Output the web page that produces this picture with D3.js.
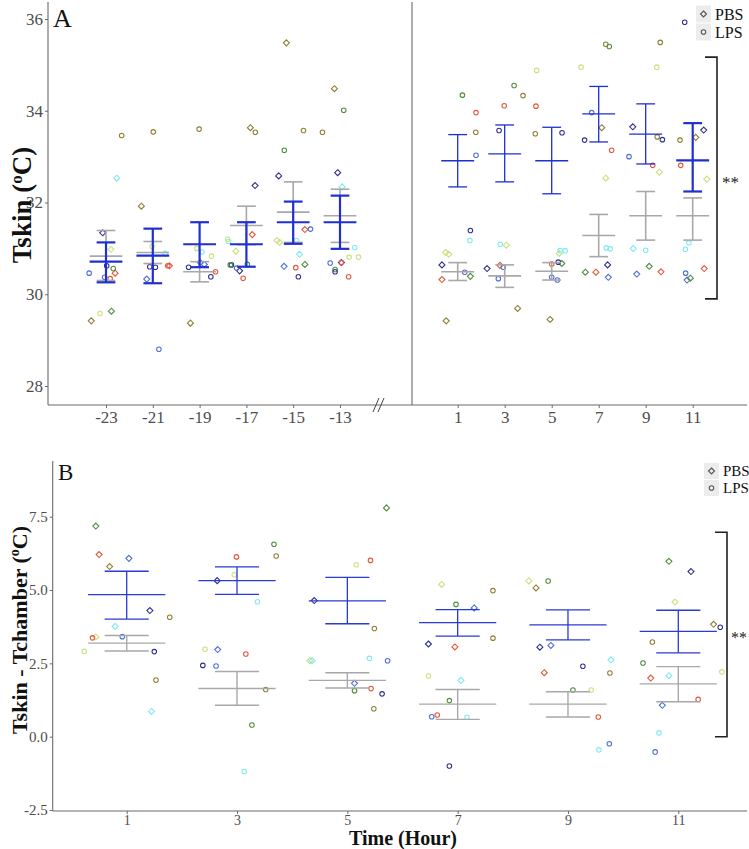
<!DOCTYPE html>
<html><head><meta charset="utf-8">
<script src="https://cdn.jsdelivr.net/npm/d3@7"></script>
<style>body{margin:0;background:#fff}svg{display:block}</style>
</head><body>
<svg id="chart" width="749" height="849"></svg>
<script>
// ---------- DATA ----------
const animalColors = {N:"#2f2f8f", B:"#4c6fd6", C:"#7fe9f3", Y:"#c9e27f", O:"#8e7f34", G:"#4f8d3c", R:"#e1583a"};

const tskinHoursPre  = [-23,-21,-19,-17,-15,-13];
const tskinHoursPost = [1,3,5,7,9,11];
const tskinHours = tskinHoursPre.concat(tskinHoursPost);
const tskinLPSMean  = [30.71,30.84,31.09,31.09,31.57,31.57,32.91,33.06,32.91,33.93,33.49,32.92];
const tskinLPSUpper = [31.13,31.43,31.57,31.57,32.02,32.15,33.48,33.69,33.64,34.53,34.15,33.73];
const tskinLPSLower = [30.26,30.24,30.59,30.60,31.10,30.99,32.34,32.45,32.19,33.32,32.84,32.24];
const tskinPBSMean  = [30.83,30.91,30.49,31.50,31.79,31.71,30.49,30.40,30.50,31.28,31.71,31.71];
const tskinPBSUpper = [31.39,31.15,30.71,31.92,32.45,32.29,30.69,30.64,30.69,31.74,32.24,32.10];
const tskinPBSLower = [30.30,30.67,30.27,31.08,31.13,31.13,30.30,30.15,30.31,30.82,31.18,31.18];

// [hour (jittered), value, animal]
const tskinPBSPoints = [
 [-22.54,32.53,'C'],[-21.49,31.92,'O'],[-16.83,33.63,'O'],[-16.63,32.37,'N'],[-15.29,35.48,'O'],[-15.62,32.58,'N'],
 [-13.24,34.48,'O'],[-13.10,32.65,'N'],[-12.91,32.34,'C'],[-23.14,31.34,'N'],[-22.79,30.98,'Y'],[-22.61,30.46,'R'],
 [-23.63,29.42,'O'],[-22.77,29.63,'G'],[-21.26,30.33,'B'],[-20.29,30.62,'R'],[-18.97,30.69,'B'],[-18.80,30.65,'B'],
 [-19.39,29.37,'O'],[-17.45,30.94,'Y'],[-16.75,31.30,'R'],[-17.29,30.51,'N'],[-15.69,31.17,'Y'],[-15.58,31.13,'Y'],
 [-14.73,30.87,'C'],[-14.50,31.41,'R'],[-15.39,30.61,'B'],[-14.50,30.65,'G'],[-12.94,30.69,'N'],
 [7.13,33.63,'O'],[7.30,32.53,'Y'],[8.45,33.65,'N'],[9.58,32.66,'Y'],[11.47,33.58,'N'],[11.13,33.42,'O'],[11.60,32.51,'Y'],
 [0.49,30.91,'Y'],[0.62,30.87,'Y'],[0.33,30.64,'N'],[1.54,30.39,'G'],[0.33,30.32,'R'],[0.51,29.42,'O'],
 [3.07,31.07,'Y'],[2.25,30.56,'N'],[2.80,30.63,'R'],[3.55,29.69,'O'],
 [5.32,30.89,'Y'],[5.43,30.67,'G'],[4.93,29.45,'O'],
 [7.38,30.64,'N'],[6.43,30.48,'G'],[6.88,30.48,'R'],[7.41,30.37,'B'],
 [8.47,31.00,'C'],[9.15,30.61,'G'],[9.65,30.49,'R'],[8.62,30.44,'B'],
 [11.49,30.56,'R'],[10.76,30.31,'B'],[10.90,30.35,'G']
];
const tskinLPSPoints = [
 [-22.33,33.46,'O'],[-20.98,33.54,'O'],[-19.02,33.60,'O'],[-16.62,33.53,'O'],[-15.38,33.14,'G'],[-14.56,33.57,'O'],
 [-13.75,33.53,'O'],[-12.84,34.01,'G'],
 [-23.72,30.46,'B'],[-22.97,30.62,'N'],[-22.69,30.56,'G'],[-23.06,30.37,'B'],[-22.82,30.34,'R'],[-23.26,29.58,'Y'],
 [-21.03,31.04,'Y'],[-20.47,30.89,'C'],[-21.13,30.60,'N'],[-20.89,30.59,'N'],[-20.36,30.62,'R'],[-20.74,28.80,'B'],
 [-19.12,31.00,'Y'],[-18.90,30.92,'C'],[-18.49,30.83,'Y'],[-19.47,30.59,'N'],[-18.32,30.49,'R'],[-18.52,30.38,'N'],
 [-17.76,31.15,'C'],[-17.80,31.20,'Y'],[-17.64,30.64,'N'],[-17.69,30.64,'G'],[-17.42,30.57,'B'],[-16.96,30.65,'G'],[-17.14,30.35,'R'],
 [-14.86,31.17,'C'],[-14.26,31.42,'B'],[-14.89,30.58,'R'],[-14.78,30.38,'N'],
 [-12.37,31.02,'C'],[-12.61,30.81,'Y'],[-12.21,30.81,'Y'],[-13.42,30.68,'B'],[-12.94,30.69,'R'],[-13.21,30.54,'G'],[-13.21,30.49,'N'],[-12.63,30.38,'R'],
 [1.20,34.34,'G'],[1.78,33.96,'R'],[1.77,33.53,'O'],[1.78,33.03,'B'],
 [3.40,34.55,'G'],[3.78,34.33,'O'],[2.98,34.11,'R'],[2.76,33.57,'N'],
 [4.36,34.88,'Y'],[4.33,34.10,'R'],[4.30,33.50,'O'],[5.44,33.52,'N'],
 [6.25,34.95,'Y'],[7.30,35.45,'O'],[7.45,35.40,'G'],[6.70,33.96,'B'],[6.40,33.36,'N'],[7.55,33.14,'R'],
 [9.62,35.49,'O'],[9.47,34.95,'Y'],[9.49,33.43,'O'],[9.71,33.37,'N'],[8.29,33.00,'B'],[9.30,32.81,'R'],
 [10.66,35.93,'N'],[10.46,33.36,'O'],[10.49,32.81,'R'],
 [1.54,31.39,'N'],[1.52,31.17,'C'],[1.30,30.48,'B'],
 [2.81,31.09,'C'],[2.94,30.59,'B'],[2.73,30.34,'B'],
 [5.57,30.95,'C'],[5.36,30.95,'C'],[5.28,30.70,'N'],[5.00,30.66,'R'],[5.00,30.37,'B'],[5.24,30.31,'B'],
 [7.32,31.01,'C'],[7.49,30.99,'C'],[9.00,30.96,'C'],
 [10.69,30.98,'C'],[10.84,31.12,'C'],[10.70,30.46,'B']
];

const deltaHours = [1,3,5,7,9,11];
const deltaLPSMean  = [4.84,5.32,4.63,3.89,3.81,3.59];
const deltaLPSUpper = [5.64,5.79,5.43,4.33,4.32,4.31];
const deltaLPSLower = [4.01,4.85,3.85,3.43,3.30,2.86];
const deltaPBSMean  = [3.19,1.64,1.92,1.11,1.11,1.80];
const deltaPBSUpper = [3.45,2.22,2.18,1.61,1.53,2.39];
const deltaPBSLower = [2.92,1.07,1.66,0.59,0.67,1.19];

const deltaPBSPoints = [
 [0.44,7.18,'G'],[0.50,6.21,'R'],[0.69,5.80,'O'],[1.04,6.08,'B'],[1.42,4.30,'N'],[0.79,3.76,'C'],[0.44,3.40,'Y'],[1.45,0.86,'C'],
 [2.64,5.32,'N'],[2.65,2.97,'B'],
 [4.40,4.64,'N'],[5.71,7.80,'G'],[4.32,2.59,'Y'],[4.36,2.59,'C'],[5.13,1.82,'B'],
 [6.71,5.19,'Y'],[7.30,4.39,'B'],[6.47,3.16,'N'],[6.95,3.06,'R'],[7.06,1.92,'C'],
 [8.29,5.31,'Y'],[8.42,5.07,'O'],[8.49,3.05,'N'],[8.69,3.11,'B'],[8.57,2.18,'R'],[9.78,2.62,'C'],
 [10.83,5.98,'G'],[11.23,5.63,'N'],[10.94,4.59,'Y'],[11.64,3.83,'O'],[10.50,2.00,'R'],[10.83,2.08,'C'],[10.71,1.07,'B']
];
const deltaLPSPoints = [
 [1.78,4.07,'O'],[0.92,3.41,'B'],[0.38,3.37,'R'],[0.23,2.91,'Y'],[1.50,2.90,'N'],[1.53,1.93,'O'],
 [2.95,5.52,'Y'],[2.99,6.13,'R'],[3.67,6.56,'G'],[3.71,6.16,'O'],[3.37,4.60,'C'],[2.42,2.98,'Y'],[3.16,2.82,'R'],
 [2.38,2.43,'N'],[2.62,2.41,'B'],[3.52,1.61,'O'],[3.27,0.40,'G'],[3.13,-1.19,'C'],
 [5.16,5.86,'Y'],[5.42,6.01,'R'],[5.49,3.69,'O'],[5.40,2.67,'C'],[5.73,2.59,'B'],[5.13,1.57,'G'],[5.43,1.64,'R'],[5.63,1.46,'N'],[5.48,0.95,'O'],
 [6.97,4.51,'G'],[7.64,4.98,'O'],[7.64,3.36,'O'],[6.47,2.07,'Y'],[6.85,1.23,'G'],[6.53,0.68,'B'],[6.63,0.74,'R'],[7.17,0.66,'C'],[6.85,-1.00,'N'],
 [8.64,5.31,'G'],[9.27,2.40,'N'],[9.76,2.17,'O'],[9.09,1.59,'G'],[9.42,1.59,'Y'],[9.55,0.67,'R'],[9.75,-0.24,'B'],[9.56,-0.45,'C'],
 [11.76,3.73,'N'],[10.53,3.23,'O'],[10.36,2.51,'G'],[11.79,2.21,'Y'],[11.36,1.27,'R'],[10.65,0.13,'C'],[10.58,-0.52,'B']
];

const tskinYTicks = [28,30,32,34,36];
const deltaYTicks = [-2.5,0,2.5,5,7.5];
const groupLabels = ["PBS","LPS"];
const tskinSignifRange = [29.9,35.17];
const deltaSignifRange = [0,6.97];

// ---------- DRAW ----------
const svg = d3.select("#chart");
svg.append("rect").attr("width",749).attr("height",849).attr("fill","#fff");
const serif = "'Liberation Serif','Times New Roman',serif";
const axisCol = "#6a6a6a", tickTxt = "#4d4d4d";
const lpsCol = "#1f2fd0", pbsCol = "#a8a8a8";

const diamond = {draw(ctx,size){const r=Math.sqrt(size/2);ctx.moveTo(0,-r);ctx.lineTo(r,0);ctx.lineTo(0,r);ctx.lineTo(-r,0);ctx.closePath();}};
const diamondPath = d3.symbol().type(diamond).size(18)();
const circlePath = d3.symbol().type(d3.symbolCircle).size(16)();

function drawPoints(g, pts, path, xf, yf){
  g.selectAll(null).data(pts).enter().append("path")
   .attr("d", path)
   .attr("transform", d=>`translate(${xf(d[0])},${yf(d[1])})`)
   .attr("fill","none").attr("stroke", d=>animalColors[d[2]]).attr("stroke-width",1.1);
}
function drawBars(g, hours, mean, up, lo, xf, yf, col, widthFn){
  hours.forEach((h,i)=>{
    const w = widthFn(h);
    const mHalf = 0.7, cHalf = 0.4;
    const gg = g.append("g").attr("stroke",col).attr("stroke-width",w).attr("fill","none");
    gg.append("line").attr("x1",xf(h)).attr("x2",xf(h)).attr("y1",yf(up[i])).attr("y2",yf(lo[i]));
    gg.append("line").attr("x1",xf(h-cHalf)).attr("x2",xf(h+cHalf)).attr("y1",yf(up[i])).attr("y2",yf(up[i]));
    gg.append("line").attr("x1",xf(h-cHalf)).attr("x2",xf(h+cHalf)).attr("y1",yf(lo[i])).attr("y2",yf(lo[i]));
    gg.append("line").attr("x1",xf(h-mHalf)).attr("x2",xf(h+mHalf)).attr("y1",yf(mean[i])).attr("y2",yf(mean[i]));
  });
}
function styleAxis(g, fs){
  g.select(".domain").remove();
  g.selectAll(".tick line").attr("stroke",axisCol);
  g.selectAll(".tick text").attr("fill",tickTxt).style("font-family",serif).style("font-size",fs+"px");
}

// ===== Panel A =====
const yA = d3.scaleLinear().domain([28,36]).range([386,19]);
const xAL = d3.scaleLinear().domain([-23,-13]).range([106,340]);
const xAR = d3.scaleLinear().domain([1,11]).range([457.7,692.7]);
const xA = h => h < 0 ? xAL(h) : xAR(h);
const gA = svg.append("g");
const axTop = 2, axBot = 405, axLeft = 48, axRight = 747;

drawPoints(gA, tskinPBSPoints, diamondPath, xA, yA);
drawPoints(gA, tskinLPSPoints, circlePath, xA, yA);
drawBars(gA, tskinHours, tskinPBSMean, tskinPBSUpper, tskinPBSLower, xA, yA, pbsCol, h=>1.6);
drawBars(gA, tskinHours, tskinLPSMean, tskinLPSUpper, tskinLPSLower, xA, yA, lpsCol, h=>(h<0||h===11)?2.2:1.3);

// axes A
gA.append("line").attr("x1",axLeft).attr("x2",axLeft).attr("y1",axTop).attr("y2",axBot).attr("stroke",axisCol).attr("stroke-width",1.1);
gA.append("line").attr("x1",axLeft).attr("x2",axRight).attr("y1",axBot).attr("y2",axBot).attr("stroke",axisCol).attr("stroke-width",1.1);
gA.append("line").attr("x1",412).attr("x2",412).attr("y1",axTop).attr("y2",axBot).attr("stroke",axisCol).attr("stroke-width",1.1);
const yAxA = gA.append("g").attr("transform",`translate(${axLeft},0)`)
  .call(d3.axisLeft(yA).tickValues(tskinYTicks).tickSize(3).tickPadding(2).tickFormat(d=>String(d)));
styleAxis(yAxA,17);
const xAxAL = gA.append("g").attr("transform",`translate(0,${axBot})`)
  .call(d3.axisBottom(xAL).tickValues(tskinHoursPre).tickSize(3).tickPadding(3).tickFormat(d=>String(d)));
styleAxis(xAxAL,17);
const xAxAR = gA.append("g").attr("transform",`translate(0,${axBot})`)
  .call(d3.axisBottom(xAR).tickValues(tskinHoursPost).tickSize(3).tickPadding(3).tickFormat(d=>String(d)));
styleAxis(xAxAR,17);
// break mark
[376,381].forEach(x=>gA.append("line").attr("x1",x-3).attr("x2",x+3).attr("y1",axBot+7).attr("y2",axBot-7).attr("stroke","#444").attr("stroke-width",1));

gA.append("text").attr("x",53).attr("y",27).text("A").style("font-family",serif).style("font-size","26px").attr("fill","#111");
const tA = gA.append("text").attr("transform","translate(31,205) rotate(-90)").attr("text-anchor","middle")
  .style("font-family",serif).style("font-weight","bold").style("font-size","27px").attr("fill","#111");
tA.append("tspan").text("Tskin (");
tA.append("tspan").text("o").attr("dy",-9).style("font-size","17px");
tA.append("tspan").text("C)").attr("dy",9);

// legend
function legend(g, x, y0, step, fs){
  groupLabels.forEach((lab,i)=>{
    const cy = y0 + i*step;
    g.append("rect").attr("x",x).attr("y",cy-step/2+0.5).attr("width",15).attr("height",step-1).attr("fill","#ececec");
    g.append("path").attr("d", i===0?diamondPath:circlePath).attr("transform",`translate(${x+7.5},${cy})`)
      .attr("fill","none").attr("stroke","#555").attr("stroke-width",1.1);
    g.append("text").attr("x",x+19).attr("y",cy).attr("dy","0.35em").text(lab)
      .style("font-family",serif).style("font-size",fs+"px").attr("fill","#111");
  });
}
legend(gA, 696, 14, 18, 16);

// significance bracket
function bracket(g, x, yTop, yBot, txtX, txtY, fs){
  g.append("path").attr("d",`M${x-12},${yTop}H${x}V${yBot}H${x-12}`).attr("fill","none").attr("stroke","#222").attr("stroke-width",1.6);
  g.append("text").attr("x",txtX).attr("y",txtY).text("**").style("font-family",serif).style("font-size",fs+"px").attr("fill","#222");
}
bracket(gA, 717, yA(tskinSignifRange[1]), yA(tskinSignifRange[0]), 722, 188, 17);

// ===== Panel B =====
const yB = d3.scaleLinear().domain([-2.5,7.5]).range([810,516.7]);
const xB = d3.scaleLinear().domain([1,11]).range([126.7,678.3]);
const gB = svg.append("g");
const bTop = 461, bBot = 811, bLeft = 52.7;

drawPoints(gB, deltaPBSPoints, diamondPath, xB, yB);
drawPoints(gB, deltaLPSPoints, circlePath, xB, yB);
drawBars(gB, deltaHours, deltaPBSMean, deltaPBSUpper, deltaPBSLower, xB, yB, pbsCol, h=>1.4);
drawBars(gB, deltaHours, deltaLPSMean, deltaLPSUpper, deltaLPSLower, xB, yB, "#2a3ad6", h=>1.3);

gB.append("line").attr("x1",bLeft).attr("x2",bLeft).attr("y1",bTop).attr("y2",bBot).attr("stroke",axisCol).attr("stroke-width",1.1);
gB.append("line").attr("x1",bLeft).attr("x2",axRight).attr("y1",bBot).attr("y2",bBot).attr("stroke",axisCol).attr("stroke-width",1.1);
const yAxB = gB.append("g").attr("transform",`translate(${bLeft},0)`)
  .call(d3.axisLeft(yB).tickValues(deltaYTicks).tickSize(3).tickPadding(2).tickFormat(d=>d.toFixed(1)));
styleAxis(yAxB,15);
const xAxB = gB.append("g").attr("transform",`translate(0,${bBot})`)
  .call(d3.axisBottom(xB).tickValues(deltaHours).tickSize(3).tickPadding(1).tickFormat(d=>String(d)));
styleAxis(xAxB,14);

gB.append("text").attr("x",58).attr("y",480).text("B").style("font-family",serif).style("font-size","23px").attr("fill","#111");
const tB = gB.append("text").attr("transform","translate(27,630) rotate(-90)").attr("text-anchor","middle")
  .style("font-family",serif).style("font-weight","bold").style("font-size","22px").attr("fill","#111");
tB.append("tspan").text("Tskin - Tchamber (");
tB.append("tspan").text("o").attr("dy",-8).style("font-size","14px");
tB.append("tspan").text("C)").attr("dy",8);

gB.append("text").attr("x",403).attr("y",845).attr("text-anchor","middle").text("Time (Hour)")
  .style("font-family",serif).style("font-weight","bold").style("font-size","20px").attr("fill","#111");

legend(gB, 704, 471, 17, 15);
bracket(gB, 727, yB(deltaSignifRange[1]), yB(deltaSignifRange[0]), 731, 643, 16);
</script>
</body></html>
